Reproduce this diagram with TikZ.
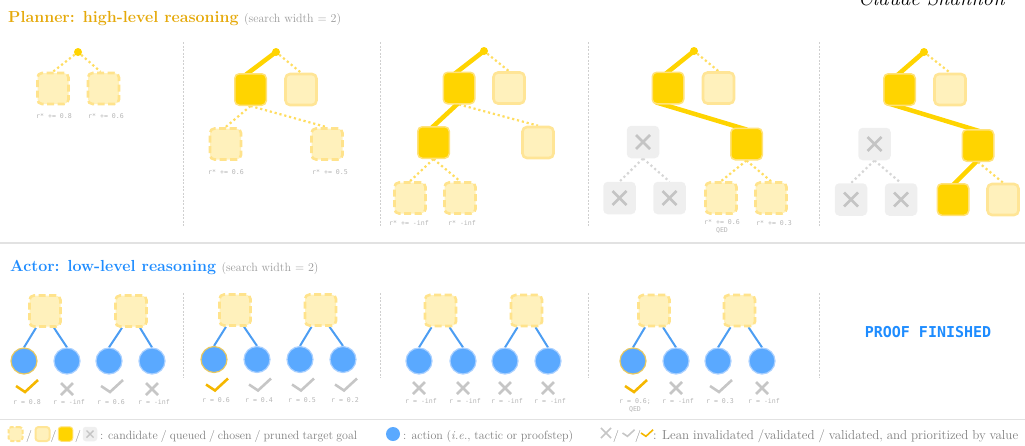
\documentclass[tikz,border=0pt]{standalone}
\usepackage{fontspec}
\newfontfamily\monof{DejaVu Sans Mono}
\usetikzlibrary{calc,backgrounds}
\definecolor{gold}{HTML}{FFD400}
\definecolor{goldedge}{HTML}{FFE27A}
\definecolor{candfill}{HTML}{FFF1BC}
\definecolor{candedge}{HTML}{FFE38C}
\definecolor{queueedge}{HTML}{FFE596}
\definecolor{prunefill}{HTML}{EFEFEF}
\definecolor{xgray}{HTML}{C4C4C4}
\definecolor{dotgold}{HTML}{FFDD60}
\definecolor{dotgray}{HTML}{D6D6D6}
\definecolor{actblue}{HTML}{5AA9FF}
\definecolor{actedge}{HTML}{A9D0FF}
\definecolor{seledge}{HTML}{E8C860}
\definecolor{linkblue}{HTML}{4C9DF2}
\definecolor{titlegold}{HTML}{E5A90A}
\definecolor{titleblue}{HTML}{1E8CFF}
\definecolor{subgray}{HTML}{9A9A9A}
\definecolor{lblgray}{HTML}{B5B5B5}
\definecolor{sepgray}{HTML}{CFCFCF}
\definecolor{rulegray}{HTML}{E2E2E2}
\definecolor{chkgold}{HTML}{F5B700}
\definecolor{chkgray}{HTML}{C6C6C6}
\definecolor{legendgray}{HTML}{7E7E7E}
\tikzset{
 pics/goldchk/.style={code={\draw[chkgold, line width=#1] (-10,0) -- (-1,6) -- (12,-6);}},
 pics/graychk/.style={code={\draw[chkgray, line width=#1] (-10,0) -- (-1,6) -- (12,-6);}},
 pics/grayx/.style={code={\draw[chkgray, line width=#1] (-6,-6) -- (6,6) (-6,6) -- (6,-6);}},
}
\begin{document}
\begin{tikzpicture}[x=1pt,y=-1pt,
 goal/.style={minimum size=31pt, inner sep=0pt, rounded corners=4.5pt},
 cand/.style={goal, fill=candfill, draw=candedge, line width=2.6pt, dash pattern=on 7pt off 3.5pt},
 queued/.style={goal, fill=candfill, draw=queueedge, line width=2.6pt},
 chosen/.style={goal, minimum size=31.5pt, fill=gold, draw=goldedge, line width=1.5pt},
 pruned/.style={goal, minimum size=32.5pt, fill=prunefill,
   path picture={\draw[xgray, line width=2.6pt]
     ($(path picture bounding box.center)+(-7,-7)$) -- ($(path picture bounding box.center)+(7,7)$)
     ($(path picture bounding box.center)+(-7,7)$) -- ($(path picture bounding box.center)+(7,-7)$);}},
 rootdot/.style={circle, fill=gold, minimum size=8pt, inner sep=0pt},
 thickln/.style={draw=gold, line width=4.5pt, line cap=round},
 dotln/.style={draw=dotgold, line width=2.2pt, dash pattern=on 2.2pt off 2.8pt},
 dotgrayln/.style={draw=dotgray, line width=2.2pt, dash pattern=on 2.2pt off 2.8pt},
 lbl/.style={font=\monof\fontsize{6.6}{8}\selectfont, text=lblgray, inner sep=0pt, align=center},
 act/.style={circle, minimum size=26pt, inner sep=0pt, fill=actblue, draw=actedge, line width=1.2pt},
 actsel/.style={act, draw=seledge},
 blueln/.style={draw=linkblue, line width=2pt},
 sep/.style={draw=sepgray, line width=0.9pt, dash pattern=on 2pt off 1.5pt},
 legtxt/.style={font=\fontsize{12}{14}\selectfont, text=legendgray, inner sep=0pt},
]
\useasboundingbox (0,0) rectangle (1025,445);

% clipped heading at the top right
\node[anchor=base west, inner sep=0pt, font=\fontsize{21}{24}\selectfont\itshape] (cs) at (858,5) {Claude Shannon};

% titles
\node[anchor=base west, inner sep=0pt, font=\fontsize{16}{19}\selectfont\bfseries, text=titlegold] (ptitle) at (8,22) {Planner: high-level reasoning};
\node[anchor=base west, inner sep=0pt, font=\fontsize{12}{14}\selectfont, text=subgray] (psub) at ($(ptitle.base east)+(5,0)$) {(search width = 2)};
\node[anchor=base west, inner sep=0pt, font=\fontsize{16}{19}\selectfont\bfseries, text=titleblue] (atitle) at (10,271) {Actor: low-level reasoning};
\node[anchor=base west, inner sep=0pt, font=\fontsize{12}{14}\selectfont, text=subgray] (asub) at ($(atitle.base east)+(5,0)$) {(search width = 2)};

% rules and separators
\draw[rulegray, line width=1.5pt] (0,243) -- (1025,243);
\draw[rulegray, line width=1.5pt] (0,419.5) -- (1025,419.5);
\foreach \sx in {183,380,588,819} {
  \draw[sep] (\sx,42) -- (\sx,226);
  \draw[sep] (\sx,293) -- (\sx,378);
}

% ---------- planner panel 1
\node[rootdot] (p1r) at (78,52) {};
\node[cand] (p1a) at (53,88.5) {};
\node[cand] (p1b) at (103.5,88.5) {};
\node[lbl] (p1la) at (54,116) {r* += 0.8};
\node[lbl] (p1lb) at (106,116) {r* += 0.6};

% ---------- planner panel 2
\node[rootdot] (p2r) at (276,52) {};
\node[chosen] (p2a) at (250.5,89.5) {};
\node[queued] (p2b) at (301,89.5) {};
\node[cand] (p2c) at (225.5,144) {};
\node[cand] (p2d) at (327,144) {};
\node[lbl] (p2lc) at (226,172) {r* += 0.6};
\node[lbl] (p2ld) at (330,172) {r* += 0.5};

% ---------- planner panel 3
\node[rootdot] (p3r) at (484,51) {};
\node[chosen] (p3a) at (459,88) {};
\node[queued] (p3b) at (509,88) {};
\node[chosen] (p3c) at (433.5,142.5) {};
\node[queued] (p3d) at (538,142.5) {};
\node[cand] (p3e) at (410,198) {};
\node[cand] (p3f) at (460,198) {};
\node[lbl] (p3le) at (409,223) {r* += -inf};
\node[lbl] (p3lf) at (462,223) {r* -inf};

% ---------- planner panel 4
\node[rootdot] (p4r) at (694,51) {};
\node[chosen] (p4a) at (668,88) {};
\node[queued] (p4b) at (718.5,88) {};
\node[pruned] (p4c) at (643,142) {};
\node[chosen] (p4d) at (746.5,144) {};
\node[pruned] (p4e) at (619.5,198) {};
\node[pruned] (p4f) at (669.5,198) {};
\node[cand] (p4g) at (721,198) {};
\node[cand] (p4h) at (771,198) {};
\node[lbl] (p4lg) at (722,226.5) {r* += 0.6\\QED};
\node[lbl] (p4lh) at (774,223) {r* += 0.3};

% ---------- planner panel 5
\node[rootdot] (p5r) at (924,52) {};
\node[chosen] (p5a) at (899.5,89.5) {};
\node[queued] (p5b) at (950,89.5) {};
\node[pruned] (p5c) at (874.5,144) {};
\node[chosen] (p5d) at (978,145.5) {};
\node[pruned] (p5e) at (851,199.5) {};
\node[pruned] (p5f) at (901,199.5) {};
\node[chosen] (p5g) at (953,199.5) {};
\node[queued] (p5h) at (1003,199.5) {};

\begin{scope}[on background layer]
 \draw[dotln] (p1r) -- (p1a.north);
 \draw[dotln] (p1r) -- ($(p1b.north)+(-3,0)$);
 \draw[thickln] (p2r.center) -- ($(p2a.north)+(-5,2)$);
 \draw[dotln] (p2r) -- (p2b.north);
 \draw[dotln] (p2a.south) -- (p2c.north);
 \draw[dotln] (p2a.south) -- (p2d.north);
 \draw[thickln] (p3r.center) -- ($(p3a.north)+(-4,2)$);
 \draw[dotln] (p3r) -- (p3b.north);
 \draw[thickln] ($(p3a.south)+(0,-2)$) -- ($(p3c.north)+(-2,2)$);
 \draw[dotln] (p3a.south) -- (p3d.north);
 \draw[dotln] (p3c.south) -- (p3e.north);
 \draw[dotln] (p3c.south) -- (p3f.north);
 \draw[thickln] (p4r.center) -- ($(p4a.north)+(-2,2)$);
 \draw[dotln] (p4r) -- (p4b.north);
 \draw[thickln] ($(p4a.south west)+(5,-2)$) -- ($(p4d.north)+(0,2)$);
 \draw[dotgrayln] (p4c.south) -- (p4e.north);
 \draw[dotgrayln] (p4c.south) -- (p4f.north);
 \draw[dotln] (p4d.south) -- (p4g.north);
 \draw[dotln] (p4d.south) -- (p4h.north);
 \draw[thickln] (p5r.center) -- ($(p5a.north)+(-2,2)$);
 \draw[dotln] (p5r) -- (p5b.north);
 \draw[thickln] ($(p5a.south west)+(4,-3)$) -- ($(p5d.north)+(1,2)$);
 \draw[dotgrayln] (p5c.south) -- (p5e.north);
 \draw[dotgrayln] (p5c.south) -- (p5f.north);
 \draw[thickln] ($(p5d.south)+(0,-2)$) -- ($(p5g.north)+(0,2)$);
 \draw[dotln] (p5d.south) -- (p5h.north);
\end{scope}

% ---------- actor panels
% panel A1
\node[cand] (a1b1) at (45,311) {};
\node[cand] (a1b2) at (131,311) {};
\node[actsel] (a1c1) at (24,361) {};
\node[act] (a1c2) at (67,361) {};
\node[act] (a1c3) at (109,361) {};
\node[act] (a1c4) at (152,361) {};
% panel A2
\node[cand] (a2b1) at (235,310) {};
\node[cand] (a2b2) at (320.5,310) {};
\node[actsel] (a2c1) at (214,359.5) {};
\node[act] (a2c2) at (257,359.5) {};
\node[act] (a2c3) at (300,359.5) {};
\node[act] (a2c4) at (343,359.5) {};
% panel A3
\node[cand] (a3b1) at (440.5,310.5) {};
\node[cand] (a3b2) at (526.5,310.5) {};
\node[act] (a3c1) at (419,361) {};
\node[act] (a3c2) at (463,361) {};
\node[act] (a3c3) at (505,361) {};
\node[act] (a3c4) at (548,361) {};
% panel A4
\node[cand] (a4b1) at (654,310.5) {};
\node[cand] (a4b2) at (739.5,310.5) {};
\node[actsel] (a4c1) at (633,361) {};
\node[act] (a4c2) at (676,361) {};
\node[act] (a4c3) at (718,361) {};
\node[act] (a4c4) at (762,361) {};

\begin{scope}[on background layer]
 \foreach \p in {1,2,3,4} {
   \draw[blueln] ($(a\p b1.south)+(-9,0)$) -- (a\p c1.north);
   \draw[blueln] ($(a\p b1.south)+(9,0)$) -- (a\p c2.north);
   \draw[blueln] ($(a\p b2.south)+(-9,0)$) -- (a\p c3.north);
   \draw[blueln] ($(a\p b2.south)+(9,0)$) -- (a\p c4.north);
 }
\end{scope}

% marks and values
\pic at ($(a1c1)+(2,25)$) {goldchk=2.6pt};
\pic at ($(a1c2)+(0,28)$) {grayx=2.6pt};
\pic at ($(a1c3)+(2,25)$) {graychk=2.6pt};
\pic at ($(a1c4)+(0,28)$) {grayx=2.6pt};
\node[lbl] (a1l1) at ($(a1c1)+(3,41)$) {r = 0.8};
\node[lbl] (a1l2) at ($(a1c2)+(2,41)$) {r = -inf};
\node[lbl] (a1l3) at ($(a1c3)+(2,41)$) {r = 0.6};
\node[lbl] (a1l4) at ($(a1c4)+(2,41)$) {r = -inf};

\pic at ($(a2c1)+(2,25)$) {goldchk=2.6pt};
\pic at ($(a2c2)+(2,25)$) {graychk=2.6pt};
\pic at ($(a2c3)+(2,25)$) {graychk=2.6pt};
\pic at ($(a2c4)+(2,25)$) {graychk=2.6pt};
\node[lbl] (a2l1) at ($(a2c1)+(2,41)$) {r = 0.6};
\node[lbl] (a2l2) at ($(a2c2)+(2,41)$) {r = 0.4};
\node[lbl] (a2l3) at ($(a2c3)+(2,41)$) {r = 0.5};
\node[lbl] (a2l4) at ($(a2c4)+(2,41)$) {r = 0.2};

\pic at ($(a3c1)+(0,27)$) {grayx=2.6pt};
\pic at ($(a3c2)+(0,27)$) {grayx=2.6pt};
\pic at ($(a3c3)+(0,27)$) {grayx=2.6pt};
\pic at ($(a3c4)+(0,27)$) {grayx=2.6pt};
\node[lbl] (a3l1) at ($(a3c1)+(2,40)$) {r = -inf};
\node[lbl] (a3l2) at ($(a3c2)+(2,40)$) {r = -inf};
\node[lbl] (a3l3) at ($(a3c3)+(2,40)$) {r = -inf};
\node[lbl] (a3l4) at ($(a3c4)+(2,40)$) {r = -inf};

\pic at ($(a4c1)+(2,25)$) {goldchk=2.6pt};
\pic at ($(a4c2)+(0,27)$) {grayx=2.6pt};
\pic at ($(a4c3)+(2,25)$) {graychk=2.6pt};
\pic at ($(a4c4)+(0,27)$) {grayx=2.6pt};
\node[lbl] (a4l1) at ($(a4c1)+(2,44)$) {r = 0.6;\\QED};
\node[lbl] (a4l2) at ($(a4c2)+(2,40)$) {r = -inf};
\node[lbl] (a4l3) at ($(a4c3)+(2,40)$) {r = 0.3};
\node[lbl] (a4l4) at ($(a4c4)+(2,40)$) {r = -inf};

\node[font=\monof\bfseries\fontsize{15}{18}\selectfont, text=titleblue] (pf) at (928,332) {PROOF FINISHED};

% ---------- legend
\node[cand, minimum size=14pt, line width=2pt, dash pattern=on 4pt off 2pt, rounded corners=3pt] (lgc) at (15.5,434) {};
\node[legtxt, anchor=base] (ls1) at (29,439) {/};
\node[queued, minimum size=14pt, line width=2pt, rounded corners=3pt] (lgq) at (42.5,434) {};
\node[legtxt, anchor=base] (ls2) at (53.5,439) {/};
\node[chosen, minimum size=14.5pt, line width=1pt, rounded corners=3pt] (lgh) at (65.5,434) {};
\node[legtxt, anchor=base] (ls3) at (78,439) {/};
\node[goal, minimum size=14.5pt, fill=prunefill, rounded corners=3pt] (lgp) at (90,434) {};
\draw[xgray, line width=1.4pt] ($(lgp.center)+(-3.5,-3.5)$) -- ($(lgp.center)+(3.5,3.5)$) ($(lgp.center)+(-3.5,3.5)$) -- ($(lgp.center)+(3.5,-3.5)$);
\node[legtxt, anchor=base west] (lt1) at (100,439) {\hbox to 257pt{: candidate / queued / chosen / pruned target goal}};
\node[circle, fill=actblue, minimum size=14pt, inner sep=0pt] (lga) at (393,434) {};
\node[legtxt, anchor=base west] (lt2) at (403,439) {\hbox to 170pt{: action (\textit{i.e.}, tactic or proofstep)}};
\pic[scale=0.85] at (606,433) {grayx=1.6pt};
\node[legtxt, anchor=base] (ls4) at (616,439) {/};
\pic[scale=0.55] at (628,433) {graychk=1.6pt};
\node[legtxt, anchor=base] (ls5) at (638,439) {/};
\pic[scale=0.55] at (646.5,433) {goldchk=1.6pt};
\node[legtxt, anchor=base west, font=\fontsize{13}{15}\selectfont] (lt3) at (653,439) {\hbox to 365pt{: Lean invalidated /validated / validated, and prioritized by value}};
\end{tikzpicture}
\end{document}
